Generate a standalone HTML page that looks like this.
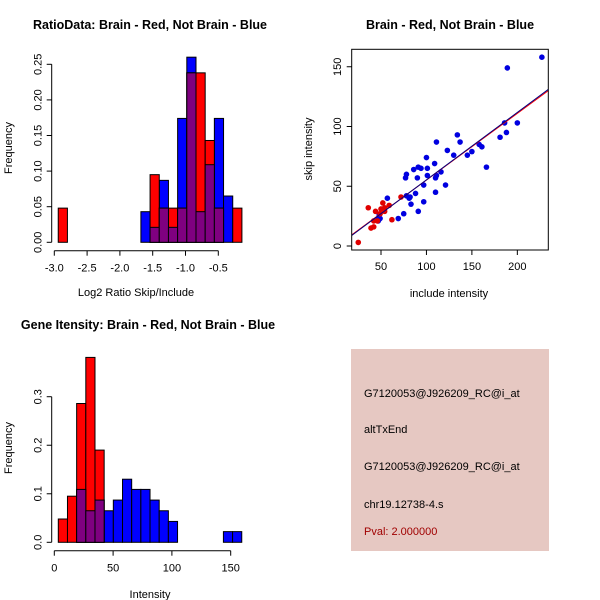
<!DOCTYPE html>
<html><head><meta charset="utf-8"><style>
body{margin:0;background:#fff}
svg{display:block;font-family:"Liberation Sans",Arial,sans-serif}
</style></head><body>
<svg id="c" width="600" height="600" viewBox="0 0 600 600">
<rect x="351" y="349" width="198" height="202" fill="#e6c8c2"/>
<g font-size="11">
<text x="364" y="397">G7120053@J926209_RC@i_at</text>
<text x="364" y="433">altTxEnd</text>
<text x="364" y="470">G7120053@J926209_RC@i_at</text>
<text x="364" y="508">chr19.12738-4.s</text>
<text x="364" y="535" fill="#a00000">Pval: 2.000000</text>
</g>
</svg>
<script>
// ---- Ratio histogram data ----
const ratioStart = -2.94, ratioWidth = 0.14;
const ratioRed  = [0.048,0,0,0,0,0,0,0,0,0,0.095,0.048,0.048,0.048,0.238,0.238,0.143,0.048,0,0.048];
const ratioBlue = [0,0,0,0,0,0,0,0,0,0.043,0.021,0.087,0.021,0.174,0.26,0.043,0.109,0.174,0.065,0];
const ratioXTicks = [-3.0,-2.5,-2.0,-1.5,-1.0,-0.5];
const ratioYTicks = [0.00,0.05,0.10,0.15,0.20,0.25];
// ---- Intensity histogram data ----
const intStart = 3.4, intWidth = 7.8;
const intRed  = [0.048,0.095,0.286,0.381,0.19,0,0,0,0,0,0,0,0,0,0,0,0,0,0,0];
const intBlue = [0,0,0.109,0.065,0.087,0.065,0.087,0.13,0.109,0.109,0.087,0.065,0.043,0,0,0,0,0,0.022,0.022];
const intXTicks = [0,50,100,150];
const intYTicks = [0.0,0.1,0.2,0.3];
// ---- Scatter data ----
const blueInclude = [227,189,200,186,188,181,166,161,158,150,145,134,137,130,123,121,116,111,109,111,110,110,100,101,101,97,97,94,91,90,91,88,86,83,82,81,78,77,78,75,69,57,48,47,49,47];
const blueSkip    = [158,149,103,103,95,91,66,83,85,79,76,93,87,76,80,51,62,87,69,59,57,45,74,65,59,51,37,65,66,57,29,44,64,35,41,40,60,57,42,27,23,40,26,23,23,21];
const redInclude = [25,36,39,42,44,42,46,52,50,54,54,59,62,72,49];
const redSkip    = [3,32,15,16,29,21,21,36,31,29,32,34,22,41,27];
const blueFit = [-1.2, 0.565];
const redFit  = [-0.6, 0.558];
const scatXTicks = [50,100,150,200];
const scatYTicks = [0,50,100,150];

const svg = document.getElementById('c');
const NS = 'http://www.w3.org/2000/svg';
function mk(tag, attrs, parent){const e=document.createElementNS(NS,tag);for(const k in attrs)e.setAttribute(k,attrs[k]);(parent||svg).appendChild(e);return e;}
function txt(x,y,s,opt){const t=mk('text',Object.assign({x:x,y:y,'font-size':11,'text-anchor':'middle'},opt||{}));t.textContent=s;return t;}

function hist(name, red, blue, start, width, xs, ys, xTicks, yTicks, yAxisX, xAxisY, fmtY, fmtX){
  const g = mk('g',{});
  
  
  const draw=(vals,color,nm)=>{vals.forEach((v,i)=>{if(v<=0)return;const x0=xs(start+i*width),x1=xs(start+(i+1)*width);
    const r=mk('rect',{x:x0,y:ys(v),width:x1-x0,height:ys(0)-ys(v),fill:color,stroke:'#000','stroke-width':1},g);
    
    });};
  draw(blue,'#0000ff','blue');
  draw(red,'#ff0000','red');
  red.forEach((v,i)=>{const m=Math.min(v,blue[i]);if(m<=0)return;const x0=xs(start+i*width),x1=xs(start+(i+1)*width);
    const r=mk('rect',{x:x0,y:ys(m),width:x1-x0,height:ys(0)-ys(m),fill:'#7f0080',stroke:'#000','stroke-width':1},g);
    
    });
  mk('line',{x1:yAxisX,x2:yAxisX,y1:ys(yTicks[0]),y2:ys(yTicks[yTicks.length-1]),stroke:'#000'},g);
  yTicks.forEach(t=>{mk('line',{x1:yAxisX,x2:yAxisX-5,y1:ys(t),y2:ys(t),stroke:'#000'},g);
    const l=txt(yAxisX-10,ys(t),fmtY(t),{transform:`rotate(-90 ${yAxisX-10} ${ys(t)})`});
    
    });
  mk('line',{x1:xs(xTicks[0]),x2:xs(xTicks[xTicks.length-1]),y1:xAxisY,y2:xAxisY,stroke:'#000'},g);
  xTicks.forEach(t=>{mk('line',{x1:xs(t),x2:xs(t),y1:xAxisY,y2:xAxisY+5,stroke:'#000'},g);
    const l=txt(xs(t),xAxisY+21,fmtX(t));
    
    });
}

const rx=v=>54.3+(v+3)*65.6, ry=v=>242.3-v*712;
hist('ratio-histogram',ratioRed,ratioBlue,ratioStart,ratioWidth,rx,ry,ratioXTicks,ratioYTicks,51.7,250.7,t=>t.toFixed(2),t=>t.toFixed(1));
let t;
t=txt(150,29,'RatioData: Brain - Red, Not Brain - Blue',{'font-weight':'bold','font-size':12.5});

t=txt(136,296,'Log2 Ratio Skip/Include');

t=txt(12,148,'Frequency',{transform:'rotate(-90 12 148)'});


const ix=v=>54.3+v*1.176, iy=v=>542.3-v*485.3;
hist('intensity-histogram',intRed,intBlue,intStart,intWidth,ix,iy,intXTicks,intYTicks,51.7,550.7,t=>t.toFixed(1),t=>String(t));
t=txt(148,329,'Gene Itensity: Brain - Red, Not Brain - Blue',{'font-weight':'bold','font-size':12.5});

t=txt(150,598,'Intensity');

t=txt(12,448,'Frequency',{transform:'rotate(-90 12 448)'});


const sx=v=>381+(v-50)*0.9089, sy=v=>246-v*1.195;
const sg=mk('g',{});


const clip=mk('clipPath',{id:'sc'},sg);mk('rect',{x:351.7,y:49.3,width:196.6,height:200.7},clip);
blueInclude.forEach((v,i)=>{const c=mk('circle',{cx:sx(v),cy:sy(blueSkip[i]),r:2.8,fill:'#0000e0'},sg);
  });
redInclude.forEach((v,i)=>{const c=mk('circle',{cx:sx(v),cy:sy(redSkip[i]),r:2.8,fill:'#e00000'},sg);
  });
[[redFit,'#ff0000','red-fit-line'],[blueFit,'#000080','blue-fit-line']].forEach(([f,col,nm])=>{
  const l=mk('line',{x1:sx(10),y1:sy(f[0]+f[1]*10),x2:sx(250),y2:sy(f[0]+f[1]*250),stroke:col,'stroke-width':1,'clip-path':'url(#sc)'},sg);
  });
mk('rect',{x:351.7,y:49.3,width:196.6,height:200.7,fill:'none',stroke:'#000'},sg);
scatXTicks.forEach(v=>{mk('line',{x1:sx(v),x2:sx(v),y1:250,y2:255,stroke:'#000'},sg);
  const l=txt(sx(v),270,String(v));});
scatYTicks.forEach(v=>{mk('line',{x1:351.7,x2:346.7,y1:sy(v),y2:sy(v),stroke:'#000'},sg);
  const l=txt(341,sy(v),String(v),{transform:`rotate(-90 341 ${sy(v)})`});
  });
t=txt(450,29,'Brain - Red, Not Brain - Blue',{'font-weight':'bold','font-size':12.5});

t=txt(449,297,'include intensity');

t=txt(312,149,'skip intensity',{transform:'rotate(-90 312 149)'});

</script>
</body></html>
